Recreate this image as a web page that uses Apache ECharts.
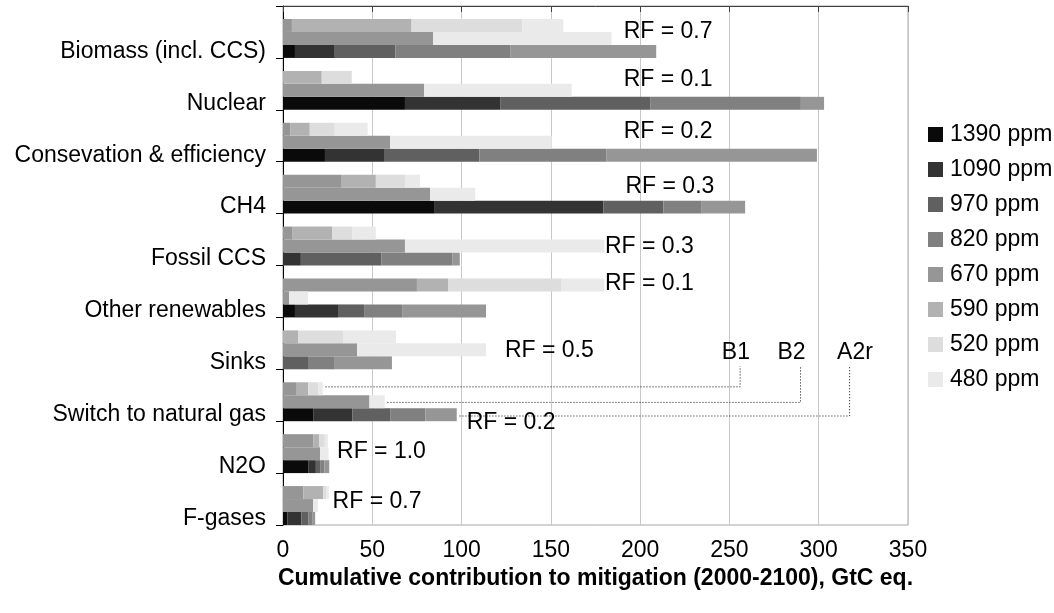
<!DOCTYPE html>
<html>
<head>
<meta charset="utf-8">
<script src="https://cdn.jsdelivr.net/npm/echarts/dist/echarts.min.js"></script>
<style>
html,body{margin:0;padding:0;background:#fff;}
#chart{width:1054px;height:613px;}
</style>
</head>
<body>
<div id="chart"></div>
<script>
// ---- Data ----
const categories = ['Biomass (incl. CCS)', 'Nuclear', 'Consevation & efficiency', 'CH4', 'Fossil CCS',
  'Other renewables', 'Sinks', 'Switch to natural gas', 'N2O', 'F-gases'];
const ppmLevels = ['1390 ppm', '1090 ppm', '970 ppm', '820 ppm', '670 ppm', '590 ppm', '520 ppm', '480 ppm'];
const scenarios = ['B1', 'B2', 'A2r'];
const xTicks = [0, 50, 100, 150, 200, 250, 300, 350];

// Segment widths (GtC eq.) per category, in category order
// B1 scenario
const b1_670 = [5, 0, 4, 32.9, 5.4, 75, 0, 7.7, 16.9, 11.4];
const b1_590 = [67, 21.7, 11, 19.1, 22.1, 17.4, 8.4, 6.4, 3.5, 11.1];
const b1_520 = [62, 16.8, 14, 16.3, 11.2, 63.3, 25.2, 5.6, 3.0, 1.9];
const b1_480 = [23, 0, 18.4, 8.4, 13.3, 24.3, 29.7, 2.6, 1.7, 1.3];
// B2 scenario
const b2_670 = [84, 79, 60, 82.4, 68.3, 3.4, 41.5, 48.4, 20.8, 16.9];
const b2_480 = [100, 82.7, 90.5, 25.2, 111.7, 10.6, 72.2, 8.6, 4.7, 2.6];
// A2r scenario
const a2r_1390 = [6.7, 68.3, 23.5, 85, 0, 6.7, 0, 16.9, 14.1, 2.4];
const a2r_1090 = [22.3, 53.3, 33.5, 94.5, 10, 24.1, 0, 21.9, 4.3, 7.9];
const a2r_970 = [34, 84, 53, 33.5, 45, 14.6, 14, 21.2, 2.4, 3.8];
const a2r_820 = [64.5, 84.4, 71, 21.5, 40, 21.3, 15, 19.7, 2.3, 2.2];
const a2r_670 = [81.5, 13, 118, 24.3, 4, 47, 32, 17.6, 2.8, 1.7];

// RF annotations (text) per category
const rfValues = ['0.7', '0.1', '0.2', '0.3', '0.3', '0.1', '0.5', '0.2', '1.0', '0.7'];
</script>
<script>
// ---- Layout (annotation anchors, not data) ----
const rfAnchorX = [190.5, 190.5, 190.5, 191.5, 180, 180, 124, 102.6, 30, 27.5];
const rfAnchorRow = [1.98, 5.68, 9.7, 13.93, 18.56, 21.41, 26.6, 32.1, 34.37, 38.18];
const leaderX = [256, 289.8, 317.3];
const leaderRow = [29.35, 30.55, 31.6];
const leaderTopRow = 27.75;
const scenLabelX = [253.6, 284.8, 320.3];
const scenLabelRow = 26.72;
const switchIdx = categories.indexOf('Switch to natural gas');

const colors = ['#0a0a0a', '#333333', '#606060', '#808080', '#969696', '#b2b2b2', '#dddddd', '#eaeaea'];
const FONT = "'Liberation Sans', Arial, Helvetica, sans-serif";

const scenarioSets = {
  B1: { '670 ppm': b1_670, '590 ppm': b1_590, '520 ppm': b1_520, '480 ppm': b1_480 },
  B2: { '670 ppm': b2_670, '480 ppm': b2_480 },
  A2r: { '1390 ppm': a2r_1390, '1090 ppm': a2r_1090, '970 ppm': a2r_970, '820 ppm': a2r_820, '670 ppm': a2r_670 }
};

const rows = [];
categories.forEach(c => { rows.push(c + '|gap'); scenarios.forEach(s => rows.push(c + '|' + s)); });

function seriesData(ppm) {
  const out = [];
  categories.forEach((c, ci) => {
    out.push('-');
    scenarios.forEach(s => {
      const arr = scenarioSets[s][ppm];
      out.push(arr && arr[ci] ? arr[ci] : '-');
    });
  });
  return out;
}
function scenTotal(s, ci) {
  let t = 0;
  Object.keys(scenarioSets[s]).forEach(k => { t += scenarioSets[s][k][ci]; });
  return t;
}

const series = ppmLevels.map((p, i) => ({
  name: p, type: 'bar', stack: 'total', barCategoryGap: 0, barGap: 0,
  itemStyle: { color: colors[i], opacity: 1 }, data: seriesData(p), silent: true
}));

const textLabel = { fontFamily: FONT, fontSize: 23, color: '#000', opacity: 1, textBorderWidth: 0 };

// RF labels
series.push({
  type: 'scatter', yAxisIndex: 1, symbolSize: 1, silent: true, z: 5,
  itemStyle: { opacity: 1, color: 'rgba(0,0,0,0)' },
  data: categories.map((c, i) => ({ value: [rfAnchorX[i], rfAnchorRow[i]], rf: rfValues[i] })),
  label: Object.assign({ show: true, position: 'right', distance: 0, formatter: p => 'RF = ' + p.data.rf }, textLabel)
});
// Leader lines for Switch to natural gas
scenarios.forEach((s, k) => {
  const start = scenTotal(s, switchIdx) + 1.5;
  series.push({
    type: 'line', yAxisIndex: 1, symbol: 'none', silent: true, z: 4,
    lineStyle: { type: [1, 2], color: '#111', width: 1, opacity: 1 },
    data: [[start, leaderRow[k]], [leaderX[k], leaderRow[k]], [leaderX[k], leaderTopRow]]
  });
});
series.push({
  type: 'scatter', yAxisIndex: 1, symbolSize: 1, silent: true, z: 5,
  itemStyle: { opacity: 1, color: 'rgba(0,0,0,0)' },
  data: scenarios.map((s, k) => ({ value: [scenLabelX[k], scenLabelRow], name: s })),
  label: Object.assign({ show: true, position: 'inside', formatter: p => p.data.name }, textLabel)
});

const chart = echarts.init(document.getElementById('chart'), null, { renderer: 'canvas' });
chart.setOption({
  animation: false,
  backgroundColor: '#fff',
  textStyle: { fontFamily: FONT },
  grid: { left: 283, right: 146, top: 6, bottom: 88, containLabel: false, outerBoundsMode: 'none',
    show: true, borderColor: '#a6a6a6', borderWidth: 1, backgroundColor: 'transparent' },
  legend: {
    data: ppmLevels, orient: 'vertical', left: 923, top: 118, itemWidth: 15, itemHeight: 15,
    itemGap: 12, icon: 'rect', selectedMode: false,
    textStyle: { fontFamily: FONT, fontSize: 23, color: '#000', padding: [0, 0, 0, 2] }
  },
  xAxis: {
    type: 'value', min: xTicks[0], max: xTicks[xTicks.length - 1], interval: xTicks[1] - xTicks[0],
    name: 'Cumulative contribution to mitigation (2000-2100), GtC eq.',
    nameLocation: 'middle', nameGap: 41,
    nameTextStyle: { fontFamily: FONT, fontSize: 23, fontWeight: 'bold', color: '#000' },
    axisLine: { show: true, lineStyle: { color: '#404040', width: 1 } },
    axisTick: { show: true, length: 6, lineStyle: { color: '#404040' } },
    axisLabel: { fontFamily: FONT, fontSize: 23, color: '#000', margin: 14 },
    splitLine: { show: true, lineStyle: { color: '#c8c8c8', width: 1 } }
  },
  yAxis: [{
    type: 'category', data: rows, inverse: true,
    axisLine: { show: true, lineStyle: { color: '#000', width: 1 } },
    axisTick: { show: true, length: 7, interval: (i) => i % 4 === 0, lineStyle: { color: '#000' } },
    axisLabel: { interval: (i) => i % 4 === 3, formatter: v => v.split('|')[0],
      fontFamily: FONT, fontSize: 23, color: '#000', margin: 17 },
    splitLine: { show: false }
  }, {
    type: 'value', min: 0, max: rows.length, inverse: true, show: false
  }],
  series: series
});
</script>
</body>
</html>
